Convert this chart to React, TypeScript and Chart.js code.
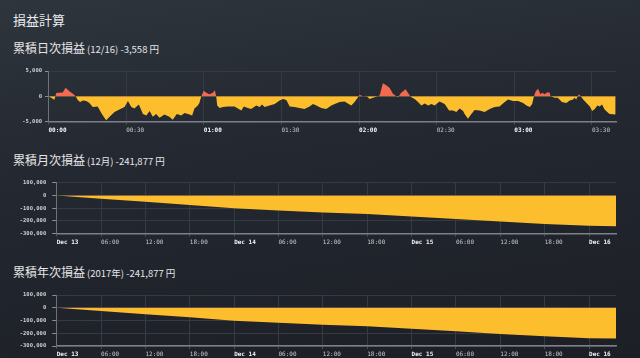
import React, { useEffect, useRef } from 'react';
import { Chart, registerables } from 'chart.js';

Chart.register(...registerables);

// ---------- data ----------
const dailyMinutes = [
  0, 1, 2.3, 3, 4, 5.5, 6.6, 8.1, 9.7, 10.5, 11.3, 12.2, 13.3, 14.6, 15.8, 17.1, 19, 20.4, 21.6, 22.3,
  23.6, 25.5, 27.4, 29.4, 30.7, 32, 33.2, 34.9, 36.5, 37.8, 39.1, 40.3, 41.6, 42.9, 44.8, 46.7, 48, 49.6,
  51.3, 52.6, 54.5, 55.5, 56.4, 57.7, 58.3, 59, 60, 61, 62.2, 63.5, 64.3, 64.8, 65.2, 66.1, 67.4, 69.3,
  71.9, 73.2, 74.5, 75.5, 77, 78.3, 80.3, 81.6, 82.5, 83.5, 85.4, 87.4, 89.3, 90.6, 91.9, 93.2, 95.1, 97,
  98.9, 100.9, 102.2, 103.5, 105.4, 107.3, 109.3, 110.6, 112.5, 114.4, 115.7, 117, 118.3, 119.6, 120.2,
  121.5, 122.8, 124.1, 125.4, 127.3, 128, 129.2, 130.5, 131.8, 133.1, 135, 136.3, 138, 139.5, 140.2,
  141.5, 142.8, 144.1, 145.4, 146.7, 148, 149.2, 151.1, 153.1, 154.8, 156.3, 157.6, 158.9, 160.2, 160.8,
  162.1, 163.4, 164.7, 166.6, 168.5, 170.5, 172.4, 174.3, 176.3, 177.6, 179.5, 181.5, 183.4, 184.7, 186,
  186.9, 187.6, 188.3, 189.2, 190.1, 190.8, 191.7, 192.8, 193.7, 194, 195.6, 196.8, 198.4, 200.1, 201.4,
  202.7, 203.3, 203.9, 204.9, 205.6, 206.6, 207.9, 209.2, 210.1, 211.1, 212.1, 213, 213.9, 214.9, 215.9,
  216.8, 219.2,
];
const dailyValues = [
  0, -300, -650, 670, 700, 750, 1700, 1000, 400, 0, -700, -1100, -800, -900, -1300, -2100, -2000, -3300, -4200, -4700,
  -4000, -3100, -2600, -2100, -900, -2100, -2400, -1600, -3500, -3800, -2900, -4000, -3500, -4200, -3600, -4000, -4600, -3500,
  -3800, -3300, -3600, -3800, -2400, -1800, -1300, -100, 1100, 700, 400, 700, 1200, 0, -1800, -2300, -2100, -2000,
  -2000, -2400, -2800, -2000, -2300, -2500, -1800, -2100, -1600, -2100, -1800, -1500, -800, -500, -700, -2000, -2100, -2300,
  -2500, -2000, -1500, -1800, -2300, -2500, -1800, -1500, -1100, -1000, -1400, -1800, -1100, -200, 300,
  0, 100, -500, -300, 0, 200, 2600, 2200, 1700, 500, -200, 700, 1400, 200, -200,
  -500, -1100, -1800, -1400, -1800, -1500, -1800, -1000, -1500, -2800, -2800, -3100, -2400, -2900, -3500,
  -4400, -3500, -2700, -2800, -3100, -2500, -2100, -2000, -1100, -600, -900, -900, -1300, -1800, -2100,
  -1500, 0, 1000, 1500, 400, 700, 400, 800, 700, 0, -300, -300, -1100, -1300, -800,
  -600, -300, -600, 400, 100, -600, -1300, -2000, -2900, -2500, -1800, -2000, -1600, -2600, -3100,
  -3500, -3558,
];
const dailyTickMinutes = [0, 30, 60, 90, 120, 150, 180, 210];
const dailyTickLabels = ['00:00', '00:30', '01:00', '01:30', '02:00', '02:30', '03:00', '03:30'];
const dailyYTicks = [-5000, 0, 5000];

const monthlyHours = [0, 6, 12, 18, 24, 30, 36, 42, 48, 54, 60, 66, 72, 75.65];
const monthlyValues = [0, -26000, -50000, -74000, -101000, -118000, -134000, -146000, -165000, -184000, -205000, -224000, -238319, -241877];
const yearlyHours = [0, 6, 12, 18, 24, 30, 36, 42, 48, 54, 60, 66, 72, 75.65];
const yearlyValues = [0, -26000, -50000, -74000, -101000, -118000, -134000, -146000, -165000, -184000, -205000, -224000, -238319, -241877];
const timeTickHours = [0, 6, 12, 18, 24, 30, 36, 42, 48, 54, 60, 66, 72];
const timeTickLabels = ['Dec 13', '06:00', '12:00', '18:00', 'Dec 14', '06:00', '12:00', '18:00', 'Dec 15', '06:00', '12:00', '18:00', 'Dec 16'];
const cumYTicks = [-300000, -200000, -100000, 0, 100000];

const YELLOW = '#fcbe2c';
const RED = '#f26a50';

type BoxProps = {
  top: number;
  height: number;
  xs: number[];
  ys: number[];
  xMax: number;
  xTicks: number[];
  xLabels: string[];
  majorTest: (label: string) => boolean;
  yTicks: number[];
  areaLeft: number;
  padTop: number;
  xHeight: number;
  tickLen: number;
  tickPad: number;
};

function ChartBox(p: BoxProps) {
  const ref = useRef<HTMLCanvasElement | null>(null);
  useEffect(() => {
    if (!ref.current) return;
    const data = p.xs.map((x, i) => ({ x, y: p.ys[i] }));
    const mono = 'DejaVu Sans Mono';
    const chart = new Chart(ref.current, {
      type: 'line',
      data: {
        datasets: [
          {
            data,
            borderWidth: 0,
            borderColor: 'rgba(0,0,0,0)',
            pointRadius: 0,
            tension: 0,
            fill: { target: 'origin', above: RED, below: YELLOW },
          } as any,
        ],
      },
      options: {
        animation: false,
        responsive: false,
        maintainAspectRatio: false,
        layout: { padding: { top: p.padTop, right: 24, bottom: 0, left: 0 } },
        plugins: { legend: { display: false }, tooltip: { enabled: false } },
        scales: {
          x: {
            type: 'linear',
            min: 0,
            max: p.xMax,
            afterBuildTicks: (s: any) => {
              s.ticks = p.xTicks.map((v) => ({ value: v }));
            },
            afterFit: (s: any) => {
              s.height = p.xHeight;
            },
            grid: { color: '#353a43', tickLength: 3, tickColor: '#4a4f57' },
            border: { color: '#7d8087', width: 1.5 },
            ticks: {
              align: 'start',
              autoSkip: false,
              maxRotation: 0,
              minRotation: 0,
              padding: 2,
              callback: (_v: any, i: number) => p.xLabels[i],
              font: (ctx: any) => ({
                family: mono,
                size: 6,
                weight: p.majorTest(p.xLabels[ctx.index] || '') ? 'bold' : 'normal',
              }),
              color: (ctx: any) => (p.majorTest(p.xLabels[ctx.index] || '') ? '#f2f4f6' : '#c6cacf'),
            },
          } as any,
          y: {
            type: 'linear',
            min: p.yTicks[0],
            max: p.yTicks[p.yTicks.length - 1],
            afterBuildTicks: (s: any) => {
              s.ticks = p.yTicks.map((v) => ({ value: v }));
            },
            afterFit: (s: any) => {
              s.width = p.areaLeft;
            },
            grid: { color: '#353a43', tickLength: p.tickLen, tickColor: '#8a8d93' },
            border: { color: '#6e7178', width: 1 },
            ticks: {
              padding: p.tickPad,
              callback: (v: any) => Number(v).toLocaleString('en-US'),
              font: { family: mono, size: 5.5, weight: 'bold' },
              color: '#cdd0d4',
            },
          } as any,
        },
      },
    });
    return () => chart.destroy();
  }, []);
  return (
    <canvas
      ref={ref}
      width={640}
      height={p.height}
      style={{ position: 'absolute', left: 0, top: p.top, width: 640, height: p.height }}
    />
  );
}

const titleFont = '"Noto Sans CJK JP", "Noto Sans", sans-serif';

function Heading(props: { top: number; main: string; sub: string }) {
  return (
    <div
      style={{
        position: 'absolute',
        left: 13,
        top: props.top,
        fontFamily: titleFont,
        color: '#e4e6e9',
        lineHeight: '14px',
        whiteSpace: 'nowrap',
      }}
    >
      <span style={{ fontSize: 12 }}>{props.main}</span>
      <span style={{ fontSize: 9.5, marginLeft: 2 }}>{props.sub}</span>
    </div>
  );
}

export default function App() {
  useEffect(() => {
    document.body.style.margin = '0';
  }, []);
  return (
    <div
      style={{
        position: 'fixed',
        left: 0,
        top: 0,
        width: 640,
        height: 358,
        overflow: 'hidden',
        background: 'linear-gradient(172deg, #2e353d 0%, #23272f 45%, #1c1f26 100%)',
      }}
    >
      <div
        style={{
          position: 'absolute',
          left: 13,
          top: 12,
          fontFamily: titleFont,
          fontSize: 13,
          lineHeight: '16px',
          color: '#e8eaed',
        }}
      >
        損益計算
      </div>
      <Heading top={39} main="累積日次損益" sub="(12/16) -3,558 円" />
      <ChartBox
        top={60}
        height={76}
        xs={dailyMinutes}
        ys={dailyValues}
        xMax={219.3}
        xTicks={dailyTickMinutes}
        xLabels={dailyTickLabels}
        majorTest={(l) => l.endsWith(':00')}
        yTicks={dailyYTicks}
        areaLeft={48.5}
        padTop={11}
        xHeight={14.3}
        tickLen={3.5}
        tickPad={3}
      />
      <Heading top={151} main="累積月次損益" sub="(12月) -241,877 円" />
      <ChartBox
        top={172}
        height={77}
        xs={monthlyHours}
        ys={monthlyValues}
        xMax={75.65}
        xTicks={timeTickHours}
        xLabels={timeTickLabels}
        majorTest={(l) => l.startsWith('Dec')}
        yTicks={cumYTicks}
        areaLeft={56.7}
        padTop={10.7}
        xHeight={15.3}
        tickLen={4.5}
        tickPad={6}
      />
      <Heading top={263} main="累積年次損益" sub="(2017年) -241,877 円" />
      <ChartBox
        top={285}
        height={73}
        xs={yearlyHours}
        ys={yearlyValues}
        xMax={75.65}
        xTicks={timeTickHours}
        xLabels={timeTickLabels}
        majorTest={(l) => l.startsWith('Dec')}
        yTicks={cumYTicks}
        areaLeft={56.7}
        padTop={10}
        xHeight={12}
        tickLen={4.5}
        tickPad={6}
      />
    </div>
  );
}
